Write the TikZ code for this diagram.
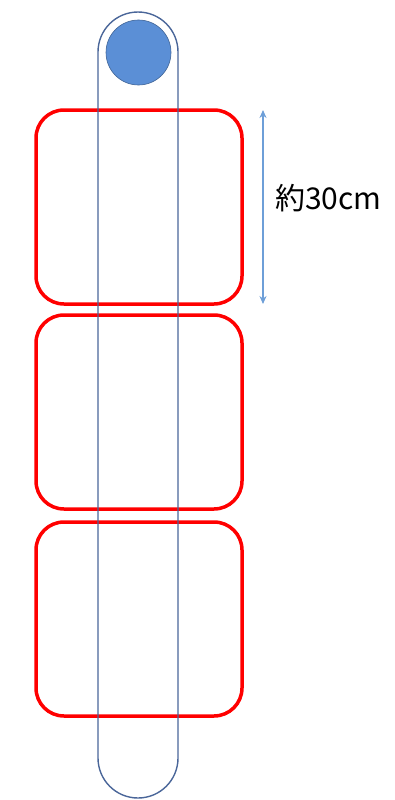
\documentclass[tikz,border=0pt]{standalone}
\usepackage{fontspec}
\newfontfamily\jpfont{Noto Sans CJK JP}
\usetikzlibrary{arrows.meta}
\definecolor{tubeblue}{HTML}{4A6699}
\definecolor{ballblue}{HTML}{5B8FD6}
\definecolor{dimblue}{HTML}{6E9FD8}
\begin{document}
\begin{tikzpicture}[
    x=1pt, y=-1pt,
    pad/.style={draw=red, line width=3.5pt, rounded corners=28pt,
        minimum width=206pt, minimum height=194pt, inner sep=0pt},
    tube/.style={draw=tubeblue, line width=1.4pt, rounded corners=40pt,
        minimum width=80pt, minimum height=786pt, inner sep=0pt},
    ball/.style={circle, fill=ballblue, draw=ballblue!70!black, line width=0.6pt,
        minimum size=65pt, inner sep=0pt},
    dim/.style={{Stealth[length=8pt,width=7pt]}-{Stealth[length=8pt,width=7pt]},
        draw=dimblue, line width=1.1pt},
    label/.style={font=\jpfont\fontsize{30}{32}\selectfont, anchor=west, inner sep=0pt}
]
    \useasboundingbox (0,0) rectangle (394,800);

    % Pads
    \node[pad] (pad1) at (139,207) {};
    \node[pad] (pad2) at (139,412) {};
    \node[pad] (pad3) at (139,619) {};

    % Tube and ball
    \node[tube] (tube) at (138,405) {};
    \node[ball] (ball) at (138.5,52.5) {};

    % Dimension
    \coordinate (dimtop) at (263,110);
    \coordinate (dimbot) at (263,304);
    \draw[dim] (dimtop) -- (dimbot);
    \node[label] (len) at (275,198) {約30cm};
\end{tikzpicture}
\end{document}
